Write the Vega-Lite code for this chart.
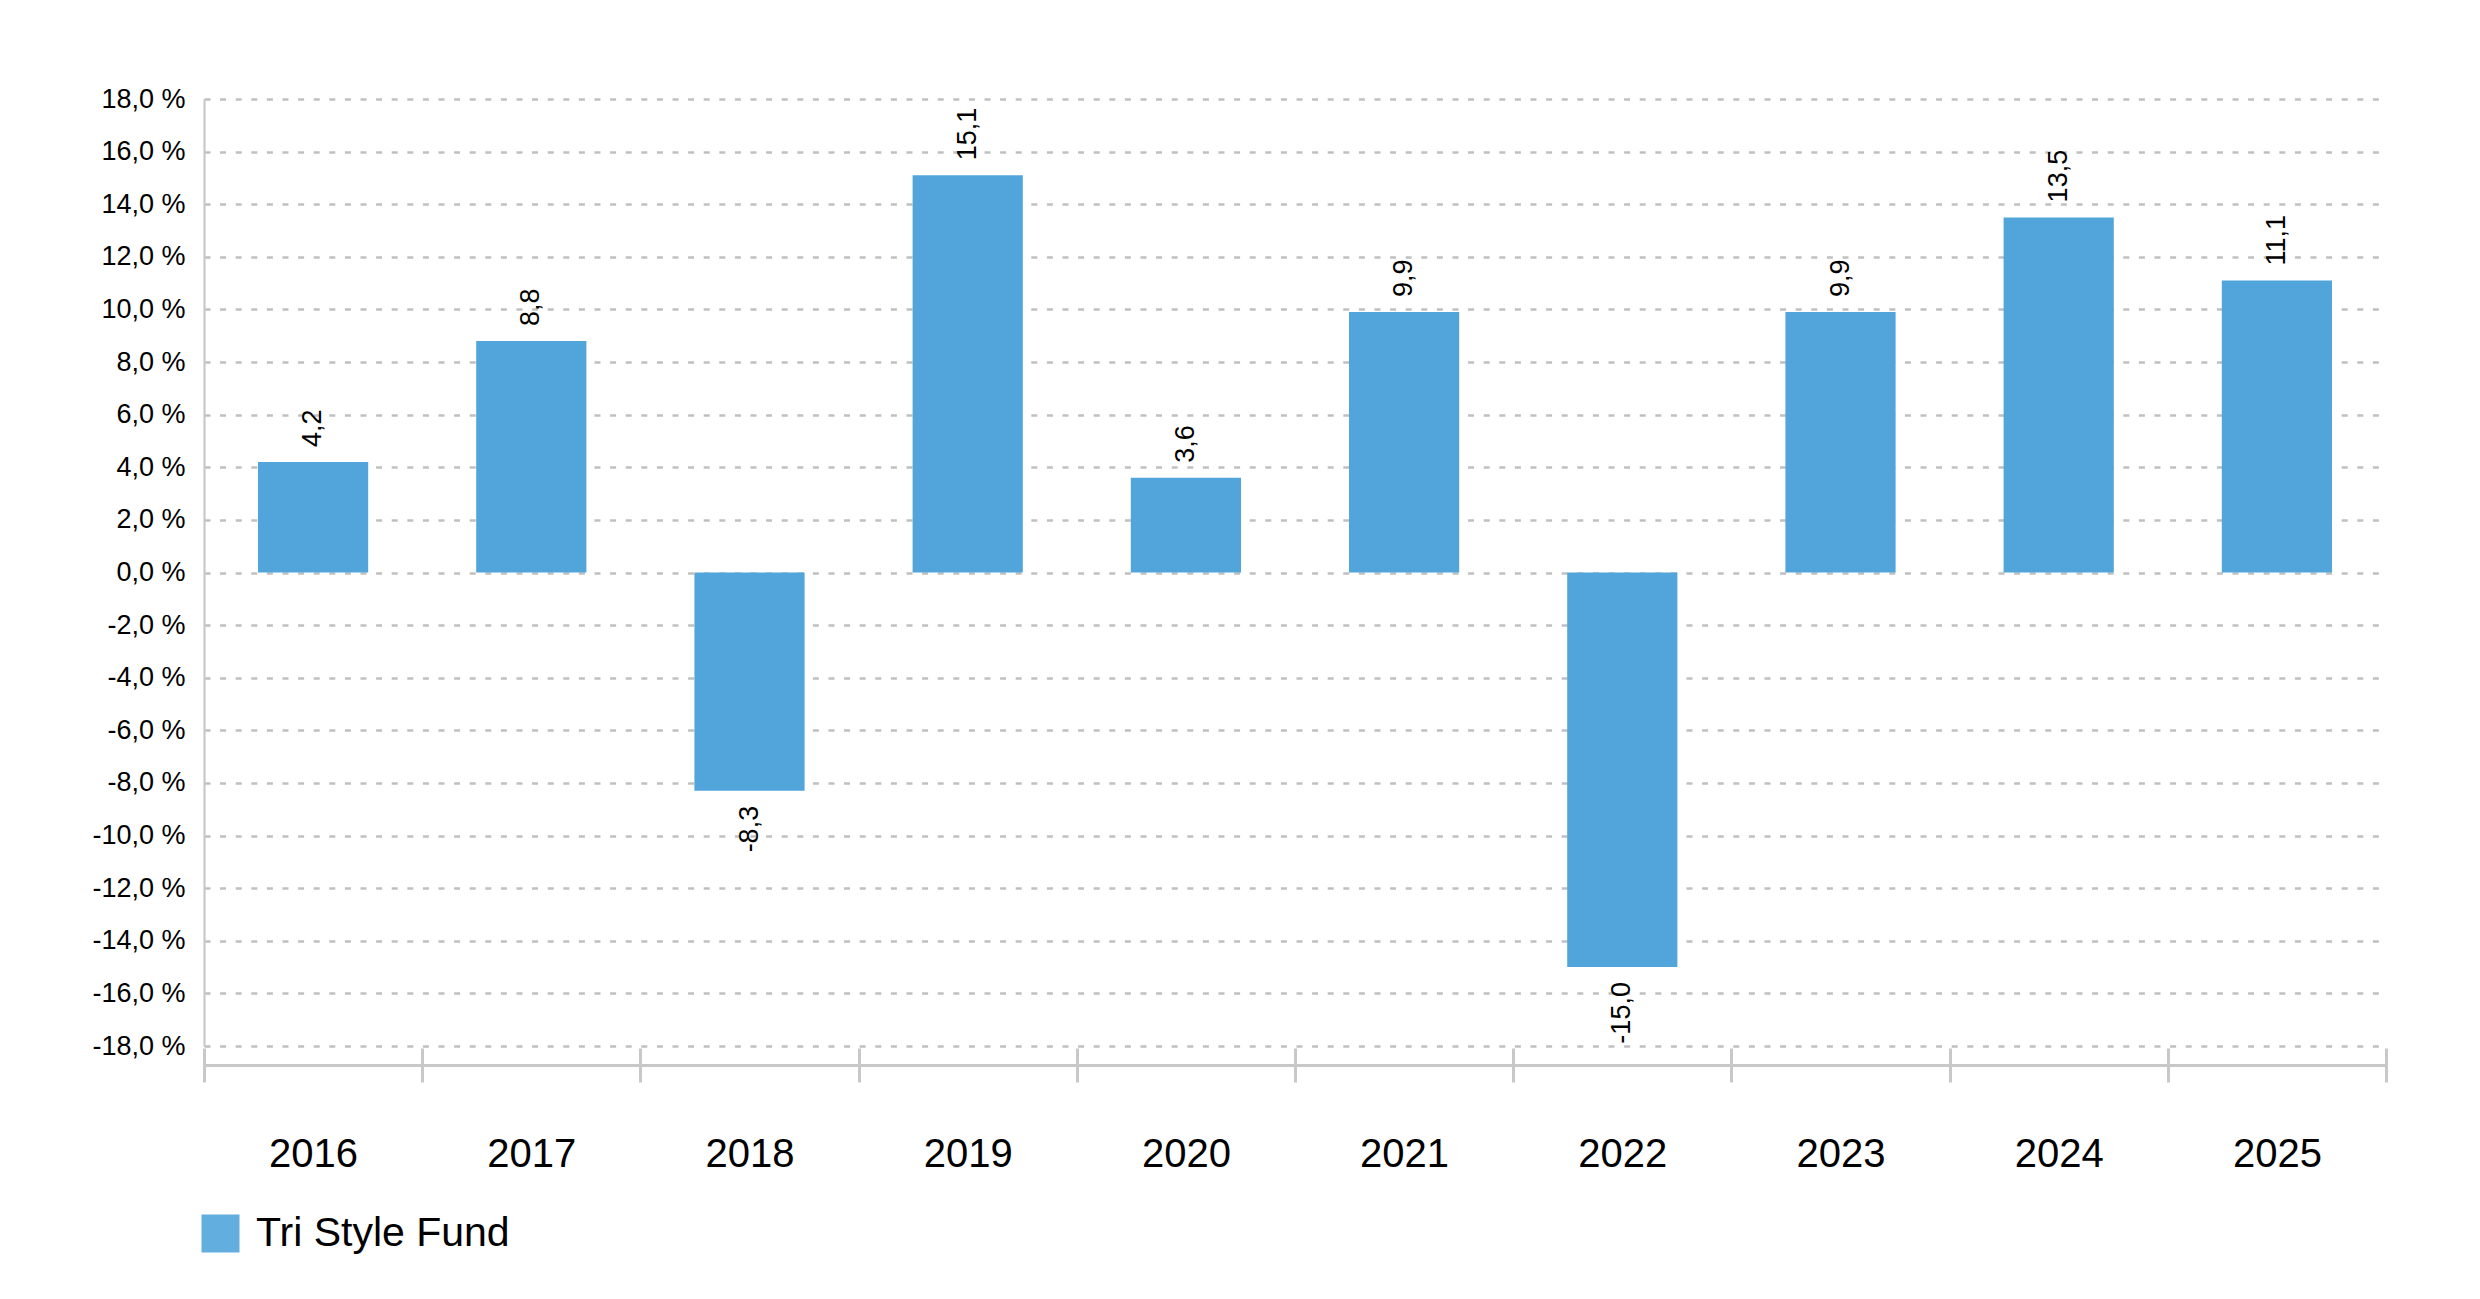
{
  "$schema": "https://vega.github.io/schema/vega-lite/v6.json",
  "width": 2182,
  "height": 947,
  "autosize": {"type": "none"},
  "padding": {"left": 204, "top": 99, "right": 94, "bottom": 253},
  "background": "white",
  "config": {
    "view": {"stroke": null},
    "font": "Liberation Sans",
    "locale": {"number": {"decimal": ",", "thousands": ".", "grouping": [3], "currency": ["", " €"], "minus": "-"}}
  },
  "data": {
    "values": [
      {"year": "2016", "value": 4.2, "series": "Tri Style Fund"},
      {"year": "2017", "value": 8.8, "series": "Tri Style Fund"},
      {"year": "2018", "value": -8.3, "series": "Tri Style Fund"},
      {"year": "2019", "value": 15.1, "series": "Tri Style Fund"},
      {"year": "2020", "value": 3.6, "series": "Tri Style Fund"},
      {"year": "2021", "value": 9.9, "series": "Tri Style Fund"},
      {"year": "2022", "value": -15.0, "series": "Tri Style Fund"},
      {"year": "2023", "value": 9.9, "series": "Tri Style Fund"},
      {"year": "2024", "value": 13.5, "series": "Tri Style Fund"},
      {"year": "2025", "value": 11.1, "series": "Tri Style Fund"}
    ]
  },
  "resolve": {"axis": {"x": "independent"}},
  "layer": [
    {
      "mark": {"type": "bar", "width": {"band": 0.505}},
      "encoding": {
        "x": {
          "field": "year", "type": "nominal", "sort": null,
          "scale": {"paddingInner": 0, "paddingOuter": 0},
          "axis": {
            "orient": "bottom", "offset": 19, "title": null, "grid": false,
            "domain": true, "domainColor": "#c8c8c8", "domainWidth": 3,
            "ticks": true, "tickBand": "extent", "tickSize": 17, "tickColor": "#c8c8c8", "tickWidth": 3,
            "labels": true, "labelAngle": 0, "labelFontSize": 40, "labelColor": "#000000", "labelPadding": 52, "labelBaseline": "top"
          }
        },
        "y": {
          "field": "value", "type": "quantitative",
          "scale": {"domain": [-18, 18], "nice": false, "zero": false},
          "axis": {
            "title": null,
            "values": [-18, -16, -14, -12, -10, -8, -6, -4, -2, 0, 2, 4, 6, 8, 10, 12, 14, 16, 18],
            "format": ".1f",
            "labelExpr": "datum.label + ' %'",
            "labelFontSize": 27, "labelColor": "#000000", "labelPadding": 19,
            "ticks": false,
            "domain": true, "domainColor": "#c8c8c8", "domainWidth": 2.2,
            "grid": true, "gridColor": "#c0c0c0", "gridDash": [6, 9.6], "gridWidth": 2.6
          }
        },
        "color": {
          "field": "series", "type": "nominal",
          "scale": {"range": ["#51A5DA"]},
          "legend": {
            "title": null, "orient": "none", "legendX": -4, "legendY": 1114,
            "symbolType": "square", "symbolSize": 1444, "symbolStrokeWidth": 0, "symbolOpacity": 0.9,
            "labelFontSize": 41, "labelColor": "#000000", "labelOffset": 15, "labelLimit": 0, "padding": 0
          }
        }
      }
    },
    {
      "transform": [{"filter": "datum.value >= 0"}],
      "mark": {"type": "text", "angle": 270, "align": "left", "baseline": "middle", "dx": 15, "fontSize": 27, "color": "#000000"},
      "encoding": {
        "x": {
          "field": "year", "type": "nominal", "sort": null,
          "axis": {
            "orient": "bottom", "offset": 2, "title": null, "grid": false,
            "domain": false, "labels": false,
            "ticks": true, "tickBand": "extent", "tickSize": 17, "tickColor": "#c8c8c8", "tickWidth": 3
          }
        },
        "y": {"field": "value", "type": "quantitative"},
        "text": {"field": "value", "type": "quantitative", "format": ".1f"}
      }
    },
    {
      "transform": [{"filter": "datum.value < 0"}],
      "mark": {"type": "text", "angle": 270, "align": "right", "baseline": "middle", "dx": -15, "fontSize": 27, "color": "#000000"},
      "encoding": {
        "x": {"field": "year", "type": "nominal", "sort": null, "axis": null},
        "y": {"field": "value", "type": "quantitative"},
        "text": {"field": "value", "type": "quantitative", "format": ".1f"}
      }
    }
  ]
}
